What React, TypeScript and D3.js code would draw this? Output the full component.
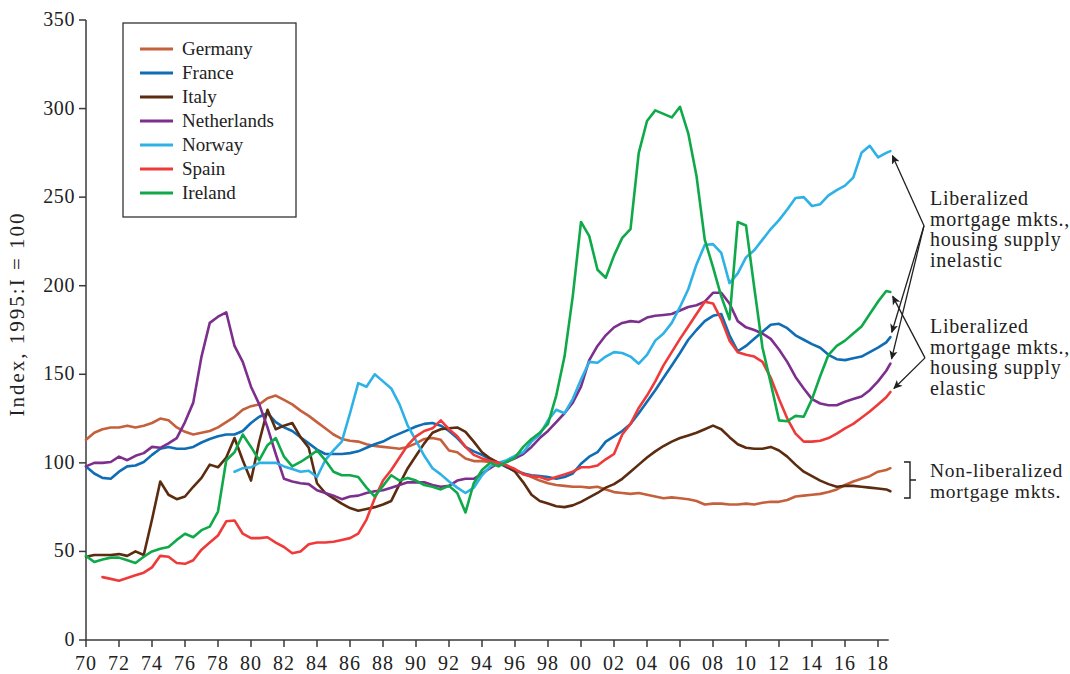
import * as d3 from "d3";

// half-year grid, last point is 2018:Q4
const years = [...d3.range(1970, 2018.75, 0.5), 2018.75];

const germany = [
  113, 117, 119, 120, 120, 121, 120, 121, 122.5, 125,
  124, 120, 117.5, 116, 117, 118, 120, 123, 126, 130,
  132, 133, 136.5, 138, 135.5, 133, 129.5, 126.5, 123, 119.5,
  116, 113.5, 112.5, 112, 110.5, 109.5, 109, 108.5, 108, 109,
  111, 113.5, 114, 113, 107, 106, 102.5, 101, 101, 100.5,
  100, 98.5, 96, 94, 92, 90, 88.5, 87.5, 87, 86.5,
  86.5, 86, 86.5, 85, 83.5, 83, 82.5, 83, 82, 81,
  80, 80.5, 80, 79.5, 78.5, 76.5, 77, 77, 76.5, 76.5,
  77, 76.5, 77.5, 78, 78, 79, 81, 81.5, 82, 82.5,
  83.5, 85, 87.5, 89.5, 91, 92.5, 95, 96, 97,
];

const france = [
  98, 94, 91.5, 91, 95, 98, 98.5, 100.5, 104.5, 108,
  109, 108, 108, 109, 111.5, 113.5, 115, 116, 116, 118,
  122.5, 126, 128, 123, 120, 118, 114.5, 111, 107.5, 105,
  105, 105, 105.5, 106.5, 108.5, 110.5, 112, 114.5, 116.5, 118.5,
  120.5, 122, 122.5, 121, 118, 114, 109, 106.5, 104.5, 102,
  100, 97.5, 95.5, 94, 93, 92.5, 92, 91, 92, 94,
  99.5, 103.5, 106, 112, 115, 118, 122, 128, 134.5, 141,
  148, 155, 162, 169.5, 175, 180, 183, 184, 172, 163,
  166, 170, 174, 178, 178.5, 176, 172, 169.5, 167, 165,
  161, 158.5, 158, 159, 160, 162.5, 165, 168, 171,
];

const italy = [
  47, 48, 48, 48, 48.5, 47.5, 50, 48, 68, 89.5,
  82, 79.5, 81, 86.5, 91.5, 99, 97.5, 103, 114, 101.5,
  90, 112, 130, 119, 121, 122.5, 114.5, 108.5, 88.5, 83,
  80, 77, 74.5, 73, 74, 75, 76.5, 78.5, 88, 97,
  104, 111, 117, 119, 119.5, 120, 117.5, 112, 106, 102.5,
  100, 98, 95, 89, 82, 78.5, 77, 75.5, 75, 76,
  78, 80.5, 83, 86, 88, 91, 95, 99, 103, 106.5,
  109.5, 112, 114, 115.5, 117, 119, 121, 119, 114.5, 110.5,
  108.5, 108, 108, 109, 107, 103.5, 99, 95, 92.5, 90,
  88, 86.5, 87, 87, 86.5, 86, 85.5, 85, 84,
];

const netherlands = [
  98, 100, 100, 100.5, 103.5, 101.5, 104, 105.5, 109, 108.5,
  111, 114, 123, 134, 160, 179, 182.5, 185, 166, 157,
  143, 133, 120, 105, 91, 89.5, 88.5, 88, 84.5, 83,
  81.5, 79.5, 81, 81.5, 83, 84, 84.5, 86, 87.5, 89,
  89, 89, 87.5, 86.5, 87, 90, 91, 91, 94, 97,
  100, 100.5, 102.5, 105, 109, 114, 118, 123, 128, 134,
  143, 158, 166, 172, 176.5, 179, 180, 179.5, 182, 183,
  183.5, 184, 186, 188, 189, 191, 196, 196, 190, 180,
  176.5, 175, 173, 170, 164, 157, 148.5, 142, 136, 133.5,
  132.5, 132.5, 134.5, 136, 137.5, 141, 146, 152, 156,
];

const norway = [
  null, null, null, null, null, null, null, null, null, null,
  null, null, null, null, null, null, null, null, 95, 97,
  97.5, 100, 100, 100, 98, 96.5, 95, 95.5, 92, 101.5,
  107, 112, 128, 145, 143, 150, 146, 142, 133, 121,
  112.5, 104, 97, 93.5, 89.5, 86, 83, 86, 93, 98,
  100, 101.5, 104, 106, 112, 116, 124, 130, 128, 136,
  147, 157, 156.5, 160, 162.5, 162, 160, 156, 161, 169,
  173, 179, 188, 198, 212, 223, 223.5, 218.5, 201.5, 207,
  216, 220, 226, 232, 237, 243, 249.5, 250, 245, 246,
  251, 254, 256.5, 261, 275, 279, 272.5, 275, 276,
];

const spain = [
  null, null, 35.5, 34.5, 33.5, 35, 36.5, 38, 41, 47.5,
  47, 43.5, 43, 45, 51, 55, 59, 67, 67.5, 60,
  57.5, 57.5, 58, 55, 52.5, 49, 50, 54, 55, 55,
  55.5, 56.5, 57.5, 60, 68, 80, 90, 96, 103, 110,
  115, 118, 119.5, 124, 119, 115, 109, 104.5, 102.5, 101,
  100, 98.5, 96.5, 93.5, 92.5, 92, 90.5, 92, 93.5, 95,
  97.5, 97.5, 98.5, 102, 105, 116, 122, 131, 138, 146,
  155, 162.5, 170, 177, 184, 191, 190, 181, 169, 162.5,
  161, 160, 157, 148, 136, 125, 116.5, 112, 112, 112.5,
  114, 116.5, 119.5, 122, 125.5, 129, 133, 137, 140,
];

const ireland = [
  47.5, 44, 45.5, 46.5, 46.5, 45, 43.5, 47, 50, 51.5,
  52.5, 56.5, 60, 58, 62, 64, 72.5, 101.5, 106, 116,
  109, 101.5, 110, 114, 103.5, 98, 100.5, 103.5, 107, 101.5,
  95, 93, 93, 92, 86, 81, 87, 93, 90, 91.5,
  90, 87.5, 86.5, 85, 87, 83, 72, 88.5, 96, 100,
  98, 100.5, 103, 109, 113.5, 117, 122, 138, 160, 194,
  236, 228, 209, 204.5, 217, 227, 232, 275, 293, 299,
  297, 295, 301, 286, 262, 226, 210.5, 194, 181, 236,
  234, 199, 165, 145, 124, 123.5, 126.5, 126, 136, 149,
  161, 166, 169, 173, 177, 184, 191, 197, 196.5,
];

const countries = ["Germany", "France", "Italy", "Netherlands", "Norway", "Spain", "Ireland"];
const seriesValues = [germany, france, italy, netherlands, norway, spain, ireland];
const colors = ["#c5603c", "#0e6db4", "#5b2c10", "#7d2f8d", "#2db1e6", "#ef3a3a", "#0fa94a"];

const yTicks = [0, 50, 100, 150, 200, 250, 300, 350];
const xTicks = d3.range(1970, 2019, 2);

const noteInelastic = ["Liberalized", "mortgage mkts.,", "housing supply", "inelastic"];
const noteElastic = ["Liberalized", "mortgage mkts.,", "housing supply", "elastic"];
const noteNonLib = ["Non-liberalized", "mortgage mkts."];
const inelasticTargets = ["Norway", "France", "Netherlands"];
const elasticTargets = ["Ireland", "Spain"];

const FONT = "'Liberation Serif', 'Times New Roman', serif";

export default function App() {
  const width = 1070;
  const height = 674;

  const x = d3.scaleLinear().domain([1970, 2019]).range([86, 894.5]);
  const y = d3.scaleLinear().domain([0, 350]).range([640, 20]);

  const line = d3
    .line<number | null>()
    .defined((d) => d !== null)
    .x((_, i) => x(years[i]))
    .y((d) => y(d as number));

  const lastYear = years[years.length - 1];
  const endPoint = (name: string) => {
    const vals = seriesValues[countries.indexOf(name)];
    return [x(lastYear), y(vals[vals.length - 1] as number)];
  };

  // arrow from an origin to a series end, stopped a little short
  const arrow = (ox: number, oy: number, name: string) => {
    const [ex, ey] = endPoint(name);
    const dx = ex - ox;
    const dy = ey - oy;
    const len = Math.hypot(dx, dy);
    const k = (len - 5) / len;
    return { x1: ox, y1: oy, x2: ox + dx * k, y2: oy + dy * k };
  };

  const noteX = 930;
  const lineGap = 20.7;
  const block1Y = 205;
  const block2Y = 333;
  const block3Y = 477;

  const origin1 = [924, block1Y + lineGap];
  const origin2 = [925, block2Y + lineGap * 1.2];

  const legendX = 123;
  const legendY = 23;

  return (
    <div style={{ position: "fixed", left: 0, top: 0 }}>
      <svg width={width} height={height} style={{ display: "block", background: "#fff" }}>
        <defs>
          <marker
            id="arrowHead"
            viewBox="0 0 10 10"
            refX={9}
            refY={5}
            markerWidth={9}
            markerHeight={9}
            markerUnits="userSpaceOnUse"
            orient="auto"
          >
            <path d="M0,0.5 L10,5 L0,9.5 L2.5,5 Z" fill="#1f1f1f" />
          </marker>
        </defs>

        {/* axes */}
        <line x1={x(1970)} x2={x(1970)} y1={y(0)} y2={y(350)} stroke="#3a3a3a" strokeWidth={1.5} />
        <line x1={x(1970)} x2={x(2018.65)} y1={y(0)} y2={y(0)} stroke="#3a3a3a" strokeWidth={1.5} />

        {yTicks.map((t) => (
          <g key={`y${t}`}>
            <line x1={x(1970) - 7} x2={x(1970)} y1={y(t)} y2={y(t)} stroke="#3a3a3a" strokeWidth={1.5} />
            <text
              x={x(1970) - 11}
              y={y(t) + 6}
              textAnchor="end"
              fontFamily={FONT}
              fontSize={20}
              letterSpacing={0.6}
              fill="#222"
            >
              {t}
            </text>
          </g>
        ))}

        {xTicks.map((t) => (
          <g key={`x${t}`}>
            <line x1={x(t)} x2={x(t)} y1={y(0)} y2={y(0) + 7} stroke="#3a3a3a" strokeWidth={1.5} />
            <text
              x={x(t)}
              y={670}
              textAnchor="middle"
              fontFamily={FONT}
              fontSize={20}
              letterSpacing={1}
              fill="#222"
            >
              {String(t % 100).padStart(2, "0")}
            </text>
          </g>
        ))}

        <text
          transform={`translate(24, 314) rotate(-90)`}
          textAnchor="middle"
          fontFamily={FONT}
          fontSize={21}
          letterSpacing={2}
          fill="#222"
        >
          Index, 1995:I = 100
        </text>

        {/* series */}
        {seriesValues.map((vals, i) => (
          <path
            key={countries[i]}
            d={line(vals) ?? ""}
            fill="none"
            stroke={colors[i]}
            strokeWidth={2.6}
            strokeLinejoin="round"
            strokeLinecap="round"
          />
        ))}

        {/* legend */}
        <rect
          x={legendX}
          y={legendY}
          width={173}
          height={194}
          fill="#fff"
          stroke="#333"
          strokeWidth={1.3}
        />
        {countries.map((c, i) => (
          <g key={`leg${c}`} transform={`translate(${legendX + 17}, ${legendY + 26 + i * 24})`}>
            <line x1={0} x2={33} y1={0} y2={0} stroke={colors[i]} strokeWidth={3} />
            <text x={42} y={6} fontFamily={FONT} fontSize={19} fill="#222">
              {c}
            </text>
          </g>
        ))}

        {/* annotations */}
        {[
          { lines: noteInelastic, y0: block1Y },
          { lines: noteElastic, y0: block2Y },
          { lines: noteNonLib, y0: block3Y },
        ].map((b, bi) =>
          b.lines.map((t, li) => (
            <text
              key={`n${bi}-${li}`}
              x={noteX}
              y={b.y0 + li * lineGap}
              fontFamily={FONT}
              fontSize={bi === 2 ? 19.5 : 20}
              letterSpacing={0.7}
              fill="#222"
            >
              {t}
            </text>
          )),
        )}

        {inelasticTargets.map((name) => {
          const a = arrow(origin1[0], origin1[1], name);
          return (
            <line
              key={`a1${name}`}
              {...a}
              stroke="#1f1f1f"
              strokeWidth={1.3}
              markerEnd="url(#arrowHead)"
            />
          );
        })}
        {elasticTargets.map((name) => {
          const a = arrow(origin2[0], origin2[1], name);
          return (
            <line
              key={`a2${name}`}
              {...a}
              stroke="#1f1f1f"
              strokeWidth={1.3}
              markerEnd="url(#arrowHead)"
            />
          );
        })}

        {/* bracket for non-liberalized */}
        <path
          d={`M904,462 H910 V498 H904 M910,480 H916`}
          fill="none"
          stroke="#1f1f1f"
          strokeWidth={1.4}
        />
      </svg>
    </div>
  );
}
